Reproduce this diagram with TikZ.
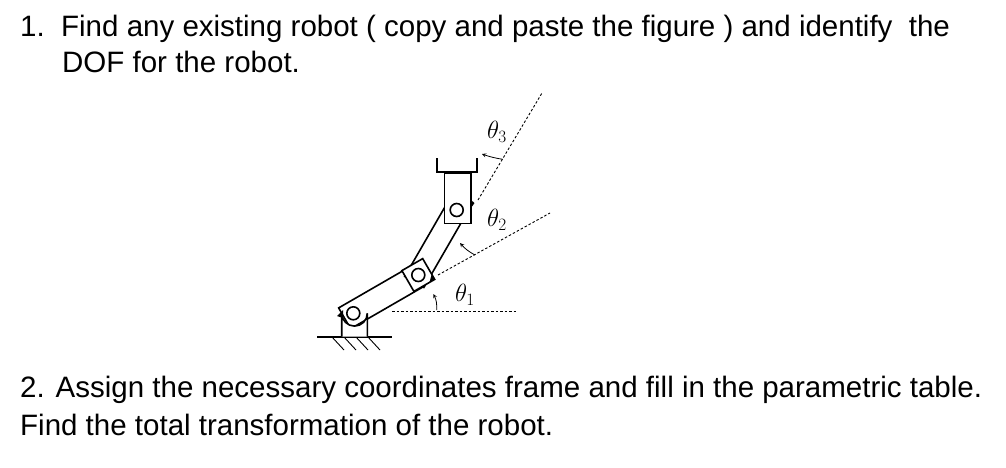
\documentclass[tikz,border=0pt]{standalone}
\usepackage{fontspec}
\setmainfont{Liberation Sans}
\begin{document}
\begin{tikzpicture}[x=1pt,y=-1pt,
  txt/.style={anchor=base west,inner sep=0pt,font=\fontsize{29.5}{34}\selectfont},
  lnk/.style={line width=1.6pt},
  pin/.style={circle,draw,line width=1.6pt,minimum size=13pt,inner sep=0pt},
  dsh/.style={dash pattern=on 2.5pt off 2pt,line width=0.9pt},
  arr/.style={-stealth,line width=0.8pt},
  lab/.style={font=\fontsize{24}{26}\selectfont\itshape,inner sep=0pt}]
\useasboundingbox (0,0) rectangle (1006,467);
\node[txt] (t1) at (20,36) {1.\ \ Find any existing robot ( copy and paste the figure ) and identify \ the};
\node[txt] (t2) at (62,72) {DOF for the robot.};
\node[txt] (t3) at (20,397) {2. Assign the necessary coordinates frame and fill in the parametric table.};
\node[txt] (t4) at (20,435) {Find the total transformation of the robot.};
% dashed references
\coordinate (d1a) at (392,311.7); \coordinate (d1b) at (517,311.7);
\coordinate (d2a) at (438,275); \coordinate (d2b) at (550,213);
\coordinate (d3a) at (478,200); \coordinate (d3b) at (542,93);
\draw[dsh] (d1a) -- (d1b);
\draw[dsh] (d2a) -- (d2b);
\draw[dsh] (d3a) -- (d3b);
% link 1
\draw[lnk,fill=white,shift={(353.3,313.3)},rotate=30] (-10,-12) rectangle (75,12);
% ground and pedestal
\coordinate (g1) at (317,336.7); \coordinate (g2) at (392,336.7);
\draw[lnk] (g1) -- (g2);
\foreach \i in {0,1,2,3} \draw[line width=0.9pt] (332+12*\i,337) -- (344+12*\i,350);
\draw[lnk,fill=white] (341.7,336.7) -- (341.7,313.3) arc[start angle=180,end angle=0,radius=12.8] -- (367.3,336.7);
% link 2
\draw[lnk,fill=white,shift={(418.3,275)},rotate=60] (-8,-11) rectangle (75,11);
% joint 2 box
\draw[lnk,fill=white,shift={(418.3,275)},rotate=30] (-12,-12) rectangle (12,12);
\fill[shift={(418.3,275)},rotate=30] (12,12) -- (12,6) -- (6,12) -- cycle;
% gripper
\draw[lnk,fill=white] (444.3,172.7) rectangle (471,223.3);
\draw[lnk] (437,158.3) -- (437,171.7) -- (477,171.7) -- (477,158.3);
\fill (471,200) -- (474.5,203) -- (471,208) -- cycle;
\fill (337,316) -- (343,310) -- (343,318) -- cycle;
% pins
\node[pin] (j1) at (353.3,313.3) {};
\node[pin] (j2) at (418.3,275) {};
\node[pin] (j3) at (456.7,210) {};
% angle arrows
\draw[arr] (436.7,310) to[bend right=15] (433.3,294);
\draw[arr] (475,255) to[bend left=10] (460,243);
\draw[arr] (502.7,159.3) to[bend left=5] (482,154);
\node[lab] (th1) at (465,295) {$\theta_1$};
\node[lab] (th2) at (497,220) {$\theta_2$};
\node[lab] (th3) at (497,132) {$\theta_3$};
\end{tikzpicture}
\end{document}
